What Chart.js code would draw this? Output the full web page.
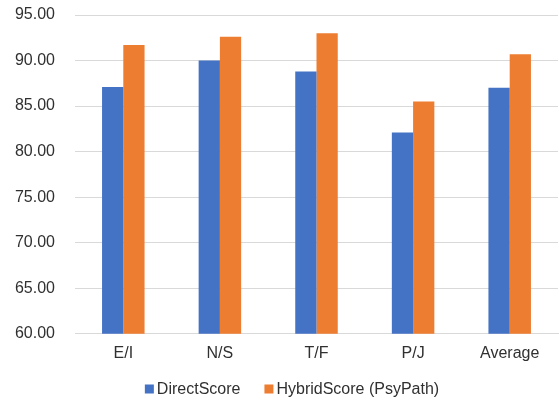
<!DOCTYPE html>
<html>
<head>
<meta charset="utf-8">
<script src="https://cdn.jsdelivr.net/npm/chart.js@4/dist/chart.umd.min.js"></script>
<style>
  html, body { margin: 0; padding: 0; background: #ffffff; }
  #wrap { width: 559px; height: 403px; position: relative; }
</style>
</head>
<body>
<div id="wrap"><canvas id="c"></canvas></div>
<script>
// MBTI dimension accuracy: direct scoring vs. hybrid scoring
const categories = ['E/I', 'N/S', 'T/F', 'P/J', 'Average'];
const directScore = [87.1, 90.0, 88.8, 82.1, 87.0];
const hybridScore = [91.7, 92.6, 93.0, 85.5, 90.7];
const seriesNames = ['DirectScore', 'HybridScore (PsyPath)'];
const yMin = 60, yMax = 95, yStep = 5;

const FONT = '"Liberation Sans", Arial, sans-serif';
const FONT_SIZE = 16;
const textColor = '#303030';
const gridColor = '#d9d9d9';

// Compact legend under the chart: small square swatch, tight text gap
const compactLegend = {
  id: 'compactLegend',
  afterDraw(chart) {
    const ctx = chart.ctx;
    const box = 9, gap = 3, spacing = 24;
    ctx.save();
    ctx.font = FONT_SIZE + 'px ' + FONT;
    ctx.textBaseline = 'middle';
    ctx.textAlign = 'left';
    const items = chart.data.datasets.map(ds => ({
      text: ds.label, color: ds.backgroundColor, w: ctx.measureText(ds.label).width
    }));
    const total = items.reduce((s, it) => s + box + gap + it.w, 0) + spacing * (items.length - 1);
    const cy = 389;
    let x = 292 - total / 2;
    items.forEach(it => {
      ctx.fillStyle = it.color;
      ctx.fillRect(x, cy - box / 2, box, box);
      ctx.fillStyle = textColor;
      ctx.fillText(it.text, x + box + gap, cy + 1);
      x += box + gap + it.w + spacing;
    });
    ctx.restore();
  }
};

new Chart(document.getElementById('c'), {
  type: 'bar',
  data: {
    labels: categories,
    datasets: [
      { label: seriesNames[0], data: directScore, backgroundColor: '#4472C4' },
      { label: seriesNames[1], data: hybridScore, backgroundColor: '#ED7D31' }
    ]
  },
  plugins: [compactLegend],
  options: {
    responsive: true,
    maintainAspectRatio: false,
    animation: false,
    datasets: { bar: { categoryPercentage: 0.44, barPercentage: 1.0 } },
    layout: { padding: { top: 15, right: 1, left: 0, bottom: 30 } },
    plugins: {
      tooltip: { enabled: false },
      legend: { display: false }
    },
    scales: {
      x: {
        grid: { display: false, drawTicks: false },
        border: { display: true, color: gridColor, width: 1 },
        ticks: { font: { family: FONT, size: FONT_SIZE }, color: textColor, padding: 10 }
      },
      y: {
        min: yMin,
        max: yMax,
        afterFit: (s) => { s.width = 75; s.paddingTop = 0; s.paddingBottom = 0; },
        grid: { color: gridColor, lineWidth: 1, drawTicks: false },
        border: { display: false },
        ticks: {
          stepSize: yStep,
          padding: 20,
          font: { family: FONT, size: FONT_SIZE },
          color: textColor,
          callback: (v) => Number(v).toFixed(2)
        }
      }
    }
  }
});
</script>
</body>
</html>
